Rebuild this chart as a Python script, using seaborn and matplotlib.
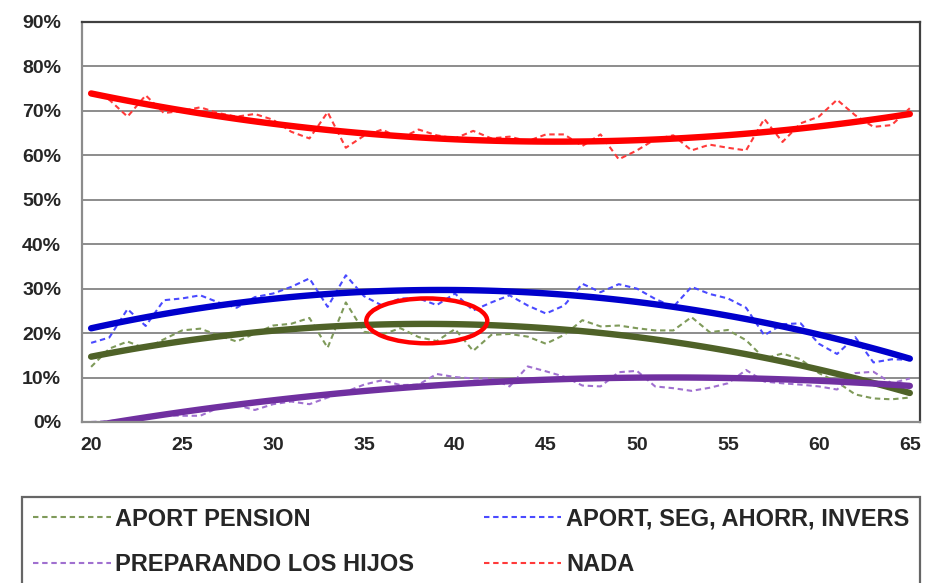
import numpy as np
import pandas as pd
import matplotlib
matplotlib.use('Agg')
import matplotlib.pyplot as plt
import seaborn as sns
from matplotlib.patches import Ellipse
from matplotlib.ticker import PercentFormatter

# edades 20..65
ages = list(range(20, 66))

aport_pension = [12.4, 16.5, 18.1, 16.5, 18.6, 20.6, 21.0, 19.5, 18.1, 19.9,
                 21.7, 22.1, 23.4, 16.7, 26.9, 20.3, 19.7, 21.1, 19.1, 18.2,
                 20.9, 16.0, 19.6, 19.8, 19.2, 17.6, 19.6, 22.9, 21.5, 21.7,
                 21.1, 20.6, 20.6, 23.6, 20.2, 20.7, 18.4, 14.3, 15.4, 14.1,
                 11.0, 9.0, 6.2, 5.3, 5.1, 5.5]
aport_seg = [17.8, 19.0, 25.4, 21.6, 27.4, 27.8, 28.5, 26.9, 25.7, 28.1,
             28.9, 30.4, 32.3, 25.9, 33.0, 28.3, 26.2, 27.8, 27.8, 26.3,
             28.9, 25.1, 26.9, 28.5, 26.2, 24.4, 26.2, 31.1, 29.2, 31.0,
             30.0, 27.7, 25.9, 30.4, 28.8, 27.8, 25.7, 19.5, 22.0, 22.2,
             17.6, 15.3, 19.1, 13.4, 14.1, 14.0]
hijos = [0.0, 0.2, 0.6, 1.1, 1.5, 1.4, 1.4, 3.2, 3.8, 2.7,
         4.0, 4.6, 4.0, 5.5, 6.8, 8.4, 9.4, 8.3, 8.4, 10.8,
         10.1, 9.8, 9.8, 8.0, 12.5, 11.4, 10.2, 8.2, 8.0, 11.2,
         11.5, 8.0, 7.6, 7.0, 7.7, 8.7, 11.7, 9.1, 8.7, 8.4,
         8.0, 7.3, 11.0, 11.3, 8.7, 9.8]
nada = [74.0, 72.5, 68.7, 73.5, 69.5, 70.0, 70.8, 69.5, 68.7, 69.3,
        68.0, 65.3, 63.8, 69.7, 61.7, 64.4, 65.8, 63.8, 65.8, 64.5,
        63.8, 65.5, 63.8, 64.2, 63.2, 64.7, 64.7, 62.1, 64.7, 59.1,
        61.1, 63.6, 64.5, 61.1, 62.4, 61.7, 61.1, 68.2, 63.0, 67.2,
        68.7, 72.5, 69.0, 66.4, 66.8, 70.6]

series = [
    ('APORT PENSION', aport_pension, '#7f9a5a', '#4f6228'),
    ('PREPARANDO LOS HIJOS', hijos, '#a070d0', '#7030a0'),
    ('APORT, SEG, AHORR, INVERS', aport_seg, '#4a4aff', '#0000cc'),
    ('NADA', nada, '#ff3a3a', '#ff0000'),
]

sns.set_style('white')
plt.rcParams['font.family'] = ['Liberation Sans', 'DejaVu Sans']

fig = plt.figure(figsize=(9.31, 5.83), dpi=100)
ax = fig.add_axes([0.0881, 0.2762, 0.8999, 0.6861])

handles = []
for name, vals, c_dash, c_trend in series:
    sns.lineplot(x=ages, y=vals, ax=ax, color=c_dash, lw=1.5, label=name)
    ln = ax.lines[-1]
    ln.set_dashes((2.6, 1.8))
    handles.append(ln)

# lineas de tendencia polinomicas (orden 2)
for name, vals, c_dash, c_trend in series:
    sns.regplot(x=np.array(ages), y=np.array(vals), order=2, ci=None,
                scatter=False, truncate=True, ax=ax,
                line_kws=dict(color=c_trend, lw=4.6, solid_capstyle='round'))

if ax.get_legend() is not None:
    ax.get_legend().remove()

# ovalo rojo de resaltado
ax.add_patch(Ellipse((38.45, 22.75), 6.65, 10.1, fill=False,
                     edgecolor='#ff0000', lw=3.2, zorder=5))

ax.set_xlim(19.5, 65.55)
ax.set_ylim(0, 90)
ax.set_xticks(range(20, 66, 5))
ax.set_yticks(range(0, 91, 10))
ax.yaxis.set_major_formatter(PercentFormatter(100, decimals=0))
ax.set_xlabel('')
ax.set_ylabel('')
ax.grid(axis='y', color='#8c8c8c', lw=1.4)
ax.grid(axis='x', visible=False)
ax.set_axisbelow(True)
for s in ['left', 'bottom']:
    ax.spines[s].set_color('#8c8c8c')
    ax.spines[s].set_linewidth(1.6)
for s in ['top', 'right']:
    ax.spines[s].set_color('#404040')
    ax.spines[s].set_linewidth(1.6)
ax.tick_params(axis='both', direction='out', length=7, width=1.4,
               color='#8c8c8c', labelsize=14)
ax.tick_params(axis='y', pad=8)
ax.tick_params(axis='x', pad=4)
for t in ax.get_xticklabels() + ax.get_yticklabels():
    t.set_fontweight('bold')

leg = fig.legend(handles, [h.get_label() for h in handles], ncol=2,
                 loc='upper left', bbox_to_anchor=(0.0236, 0.0, 0.9646, 0.1475),
                 mode='expand', borderaxespad=0, frameon=True, fancybox=False,
                 edgecolor='#404040', handlelength=3.3, handletextpad=0.2,
                 labelspacing=0.95, borderpad=0.45,
                 prop=dict(family=['Liberation Sans', 'DejaVu Sans'], weight='bold', size=17))
leg.get_frame().set_linewidth(1.6)

plt.savefig('out.png', dpi=100)
